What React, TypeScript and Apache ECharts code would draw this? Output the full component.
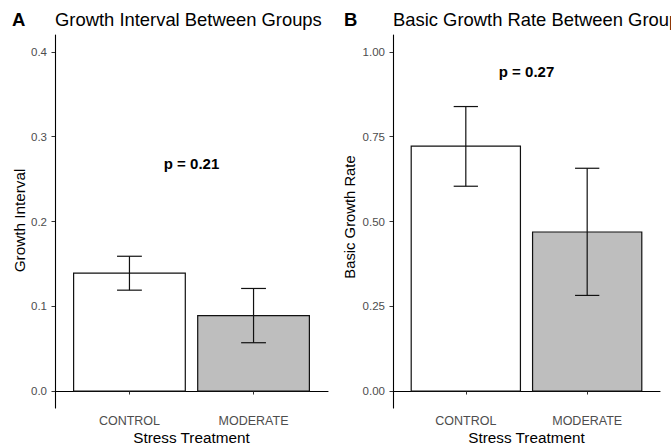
import React, { useEffect, useRef } from "react";
import * as echarts from "echarts";

const categories = ["CONTROL", "MODERATE"];
const categoryPositions = [1, 2];

const intervalMean = [0.139, 0.089];
const intervalLower = [0.119, 0.057];
const intervalUpper = [0.159, 0.121];

const rateMean = [0.722, 0.469];
const rateLower = [0.604, 0.282];
const rateUpper = [0.839, 0.657];

const barFills = ["#FFFFFF", "#BEBEBE"];

const intervalTicks = [0, 0.1, 0.2, 0.3, 0.4];
const rateTicks = [0, 0.25, 0.5, 0.75, 1.0];

const pLabels = ["p = 0.21", "p = 0.27"];
const pLabelY = [0.268, 0.942];

const FONT = "'Liberation Sans', Arial, Helvetica, sans-serif";

function barRender(params: any, api: any) {
  const x = api.value(0);
  const m = api.value(1);
  const lo = api.value(2);
  const hi = api.value(3);
  const tl = api.coord([x - 0.45, m]);
  const br = api.coord([x + 0.45, 0]);
  const top = api.coord([x, hi]);
  const bot = api.coord([x, lo]);
  const capL = api.coord([x - 0.1, hi])[0];
  const capR = api.coord([x + 0.1, hi])[0];
  const lineStyle = { stroke: "#111", lineWidth: 1.2, fill: null };
  return {
    type: "group",
    children: [
      {
        type: "rect",
        shape: { x: tl[0], y: tl[1], width: br[0] - tl[0], height: br[1] - tl[1] },
        style: { fill: barFills[params.dataIndex], stroke: "#111", lineWidth: 1.2 },
      },
      { type: "line", shape: { x1: top[0], y1: top[1], x2: bot[0], y2: bot[1] }, style: lineStyle },
      { type: "line", shape: { x1: capL, y1: top[1], x2: capR, y2: top[1] }, style: lineStyle },
      { type: "line", shape: { x1: capL, y1: bot[1], x2: capR, y2: bot[1] }, style: lineStyle },
    ],
  };
}

function pRender(params: any, api: any) {
  const p = api.coord([api.value(0), api.value(1)]);
  return {
    type: "text",
    x: p[0],
    y: p[1],
    style: {
      text: pLabels[params.seriesIndex === 2 ? 0 : 1],
      align: "center",
      verticalAlign: "middle",
      fontSize: 15,
      fontWeight: "bold",
      fontFamily: FONT,
      fill: "#000",
    },
  };
}

function makeXAxis(gridIndex: number) {
  return {
    type: "value",
    gridIndex,
    min: 0.4,
    max: 2.6,
    splitLine: { show: false },
    axisLine: { show: true, lineStyle: { color: "#000", width: 1.1 } },
    axisTick: { show: true, customValues: categoryPositions, length: 3.5, lineStyle: { color: "#333", width: 1 } },
    axisLabel: {
      customValues: categoryPositions,
      formatter: (v: number) => categories[Math.round(v) - 1] ?? "",
      color: "#4d4d4d",
      fontSize: 12.5,
      fontFamily: FONT,
      margin: 6,
    },
  };
}

function makeYAxis(gridIndex: number, min: number, max: number, ticks: number[], digits: number) {
  return {
    type: "value",
    gridIndex,
    min,
    max,
    splitLine: { show: false },
    axisLine: { show: true, lineStyle: { color: "#000", width: 1.1 } },
    axisTick: { show: true, customValues: ticks, length: 3.5, lineStyle: { color: "#333", width: 1 } },
    axisLabel: {
      customValues: ticks,
      formatter: (v: number) => v.toFixed(digits),
      color: "#4d4d4d",
      fontSize: 11.5,
      fontFamily: FONT,
      margin: 8,
    },
  };
}

export default function App() {
  const ref = useRef<HTMLDivElement>(null);
  useEffect(() => {
    if (!ref.current) return;
    const chart = echarts.init(ref.current, null, { renderer: "svg" });
    const textBase = { fontFamily: FONT, fill: "#000" };
    chart.setOption({
      animation: false,
      backgroundColor: "#fff",
      grid: [
        { left: 55, top: 35, width: 273, height: 373 },
        { left: 393, top: 35, width: 267, height: 373 },
      ],
      xAxis: [makeXAxis(0), makeXAxis(1)],
      yAxis: [
        makeYAxis(0, -0.02, 0.42, intervalTicks, 1),
        makeYAxis(1, -0.05, 1.05, rateTicks, 2),
      ],
      series: [
        {
          type: "custom",
          xAxisIndex: 0,
          yAxisIndex: 0,
          renderItem: barRender,
          data: categoryPositions.map((x, i) => [x, intervalMean[i], intervalLower[i], intervalUpper[i]]),
        },
        {
          type: "custom",
          xAxisIndex: 1,
          yAxisIndex: 1,
          renderItem: barRender,
          data: categoryPositions.map((x, i) => [x, rateMean[i], rateLower[i], rateUpper[i]]),
        },
        {
          type: "custom",
          xAxisIndex: 0,
          yAxisIndex: 0,
          renderItem: pRender,
          data: [[1.5, pLabelY[0]]],
        },
        {
          type: "custom",
          xAxisIndex: 1,
          yAxisIndex: 1,
          renderItem: pRender,
          data: [[1.5, pLabelY[1]]],
        },
      ],
      graphic: [
        { type: "text", x: 12, y: 19.5, style: { ...textBase, text: "A", fontSize: 18.5, fontWeight: "bold", align: "left", verticalAlign: "middle" } },
        { type: "text", x: 55, y: 19.5, style: { ...textBase, text: "Growth Interval Between Groups", fontSize: 18.4, align: "left", verticalAlign: "middle" } },
        { type: "text", x: 344, y: 19.5, style: { ...textBase, text: "B", fontSize: 18.5, fontWeight: "bold", align: "left", verticalAlign: "middle" } },
        { type: "text", x: 393, y: 19.5, style: { ...textBase, text: "Basic Growth Rate Between Groups", fontSize: 18.4, align: "left", verticalAlign: "middle" } },
        { type: "text", x: 19, y: 220.5, rotation: Math.PI / 2, style: { ...textBase, text: "Growth Interval", fontSize: 15.3, align: "center", verticalAlign: "middle" } },
        { type: "text", x: 349.5, y: 217, rotation: Math.PI / 2, style: { ...textBase, text: "Basic Growth Rate", fontSize: 14.8, align: "center", verticalAlign: "middle" } },
        { type: "text", x: 191.5, y: 437, style: { ...textBase, text: "Stress Treatment", fontSize: 15.3, align: "center", verticalAlign: "middle" } },
        { type: "text", x: 526.5, y: 437, style: { ...textBase, text: "Stress Treatment", fontSize: 15.3, align: "center", verticalAlign: "middle" } },
      ],
    });
    return () => chart.dispose();
  }, []);
  return (
    <div
      ref={ref}
      style={{ position: "fixed", left: 0, top: 0, width: 671, height: 446, overflow: "hidden" }}
    />
  );
}
